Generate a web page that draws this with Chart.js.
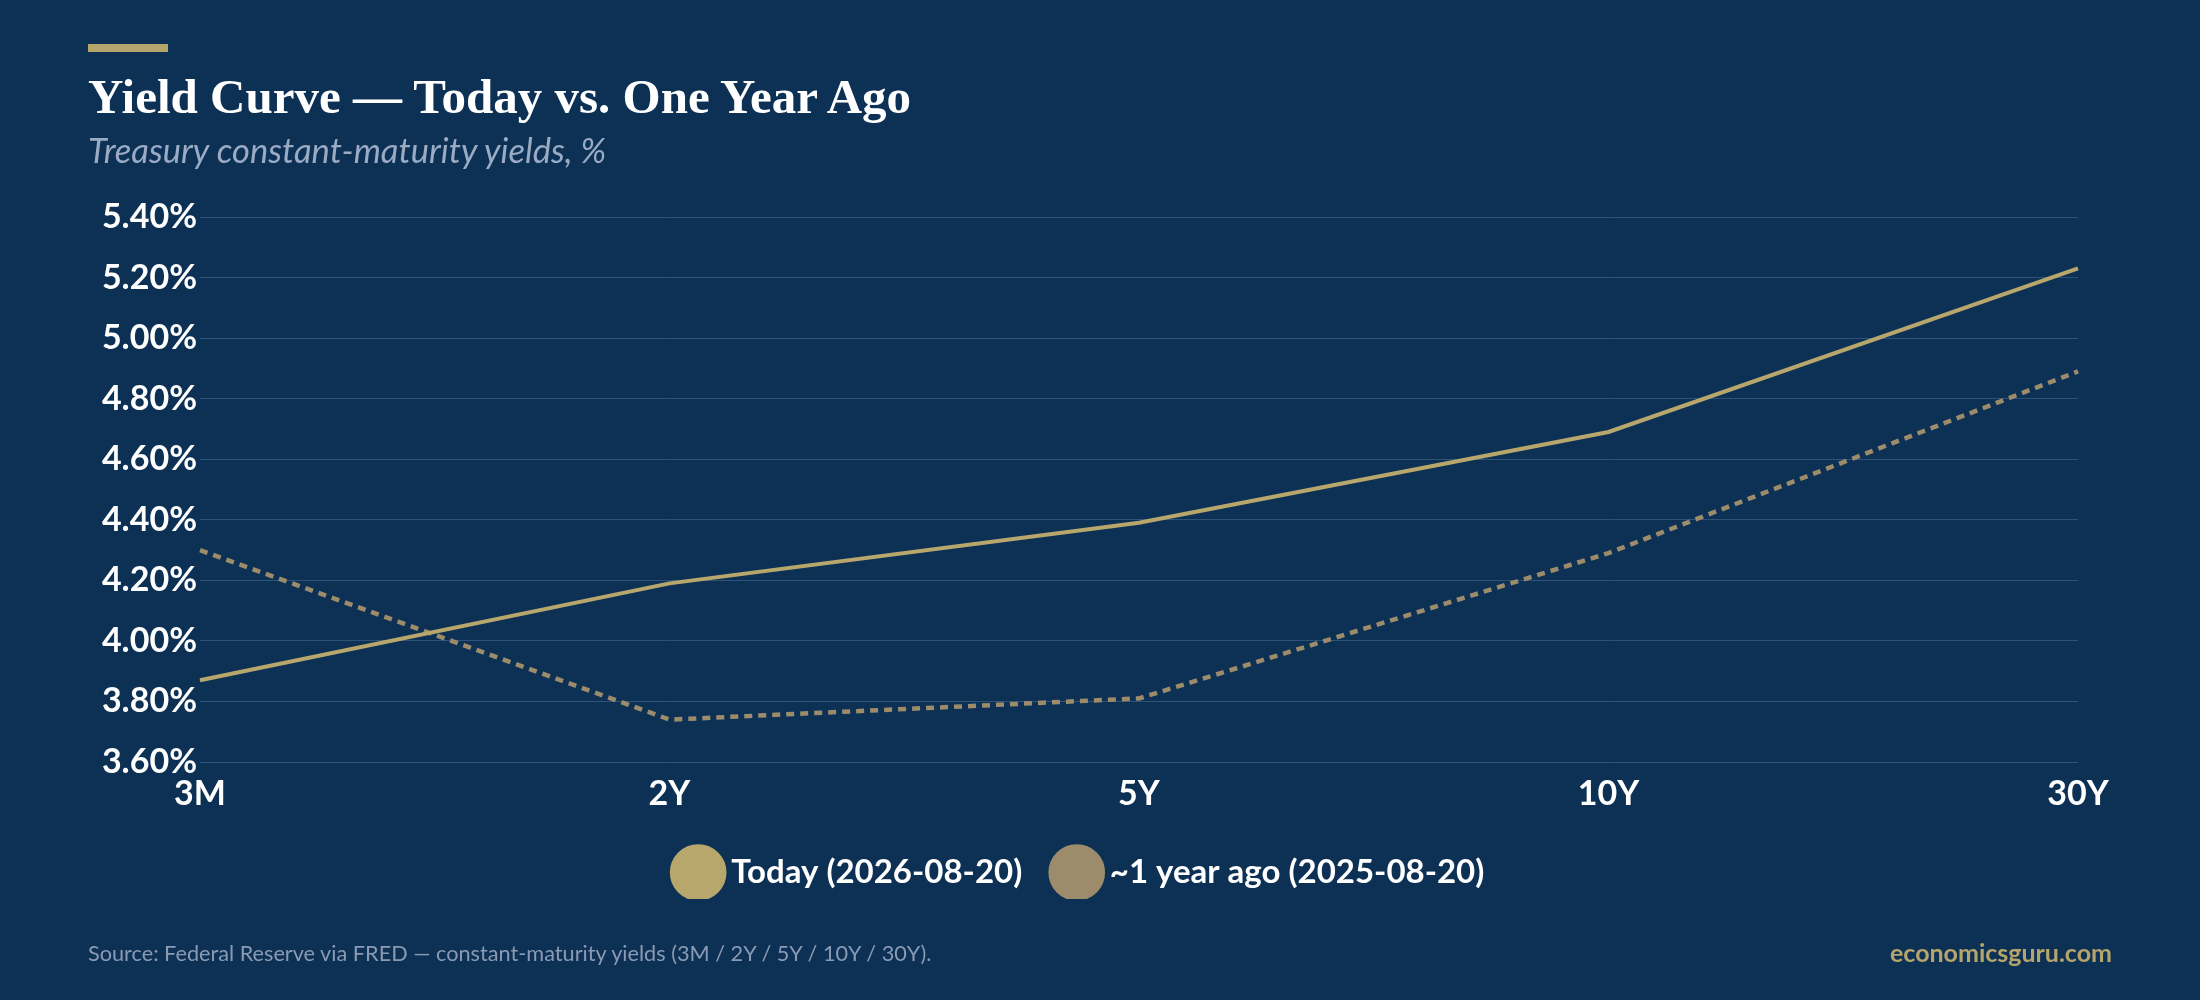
<!DOCTYPE html>
<html>
<head>
<meta charset="utf-8">
<script src="https://cdn.jsdelivr.net/npm/chart.js@4.4.1/dist/chart.umd.min.js"></script>
<style>
  html, body { margin: 0; padding: 0; background: #0d3155; }
  #wrap { position: relative; width: 2200px; height: 1000px; background: #0d3155; overflow: hidden; }
  #c { position: absolute; left: 0; top: 0; }
  .bar { position: absolute; left: 88px; top: 44px; width: 80px; height: 8px; background: #b5a46b; }
  .title { position: absolute; left: 88px; top: 72px; font-family: "Liberation Serif", serif; font-weight: bold; font-size: 49px; color: #ffffff; line-height: 1; white-space: nowrap; }
  .subtitle { position: absolute; left: 88px; top: 131px; font-family: Lato, sans-serif; font-style: italic; font-size: 34.5px; color: #9aabc3; line-height: 1.1; white-space: nowrap; }
  .source { position: absolute; left: 88px; top: 940px; font-family: Lato, sans-serif; font-size: 21.7px; color: #8a9ab3; white-space: nowrap; }
  .brand { position: absolute; right: 88px; top: 937px; font-family: Lato, sans-serif; font-weight: bold; font-size: 25px; color: #b5a46b; white-space: nowrap; }
</style>
</head>
<body>
<div id="wrap">
  <canvas id="c" width="2200" height="1000"></canvas>
  <div class="bar"></div>
  <div class="title">Yield Curve — Today vs. One Year Ago</div>
  <div class="subtitle">Treasury constant-maturity yields, %</div>
  <div class="source">Source: Federal Reserve via FRED — constant-maturity yields (3M / 2Y / 5Y / 10Y / 30Y).</div>
  <div class="brand">economicsguru.com</div>
</div>
<script>
const maturities = ["3M", "2Y", "5Y", "10Y", "30Y"];
const todayYields = [3.87, 4.19, 4.39, 4.69, 5.23];
const yearAgoYields = [4.30, 3.74, 3.81, 4.29, 4.89];
const todayLabel = "Today (2026-08-20)";
const yearAgoLabel = "~1 year ago (2025-08-20)";

const GOLD = "#b8a76c";
const MUTED = "#9c8c6b";

new Chart(document.getElementById("c"), {
  type: "line",
  data: {
    labels: maturities,
    datasets: [
      {
        label: todayLabel,
        data: todayYields,
        borderColor: GOLD,
        backgroundColor: GOLD,
        borderWidth: 4,
        pointRadius: 0,
        tension: 0,
        fill: false
      },
      {
        label: yearAgoLabel,
        data: yearAgoYields,
        borderColor: MUTED,
        backgroundColor: MUTED,
        borderWidth: 4.5,
        borderDash: [8, 6],
        pointRadius: 0,
        tension: 0,
        fill: false
      }
    ]
  },
  options: {
    responsive: false,
    animation: false,
    devicePixelRatio: 1,
    layout: { padding: { left: 88, right: 122, top: 217, bottom: 101 } },
    scales: {
      x: {
        offset: false,
        grid: { display: false, drawTicks: false },
        border: { display: false },
        ticks: { color: "#ffffff", font: { family: "Lato", weight: "bold", size: 34 }, padding: 12, maxRotation: 0 },
        afterFit(scale) { scale.height = 56; }
      },
      y: {
        min: 3.6,
        max: 5.4,
        grid: { color: "#2f5278", lineWidth: 1, drawTicks: false },
        border: { display: false },
        ticks: {
          stepSize: 0.2,
          color: "#ffffff",
          padding: 3,
          font: { family: "Lato", weight: "bold", size: 34 },
          callback: (v) => Number(v).toFixed(2) + "%"
        },
        afterFit(scale) { scale.width = 112; }
      }
    },
    plugins: {
      legend: {
        position: "bottom",
        labels: {
          usePointStyle: true,
          pointStyle: "circle",
          boxHeight: 33,
          padding: 38,
          color: "#ffffff",
          font: { family: "Lato", weight: "bold", size: 33 },
          generateLabels(chart) {
            return chart.data.datasets.map((ds, i) => ({
              text: ds.label,
              fillStyle: ds.backgroundColor,
              strokeStyle: ds.backgroundColor,
              lineWidth: 10,
              lineDash: [],
              pointStyle: "circle",
              fontColor: "#ffffff",
              hidden: false,
              datasetIndex: i
            }));
          }
        }
      },
      tooltip: { enabled: false }
    }
  }
});
</script>
</body>
</html>
